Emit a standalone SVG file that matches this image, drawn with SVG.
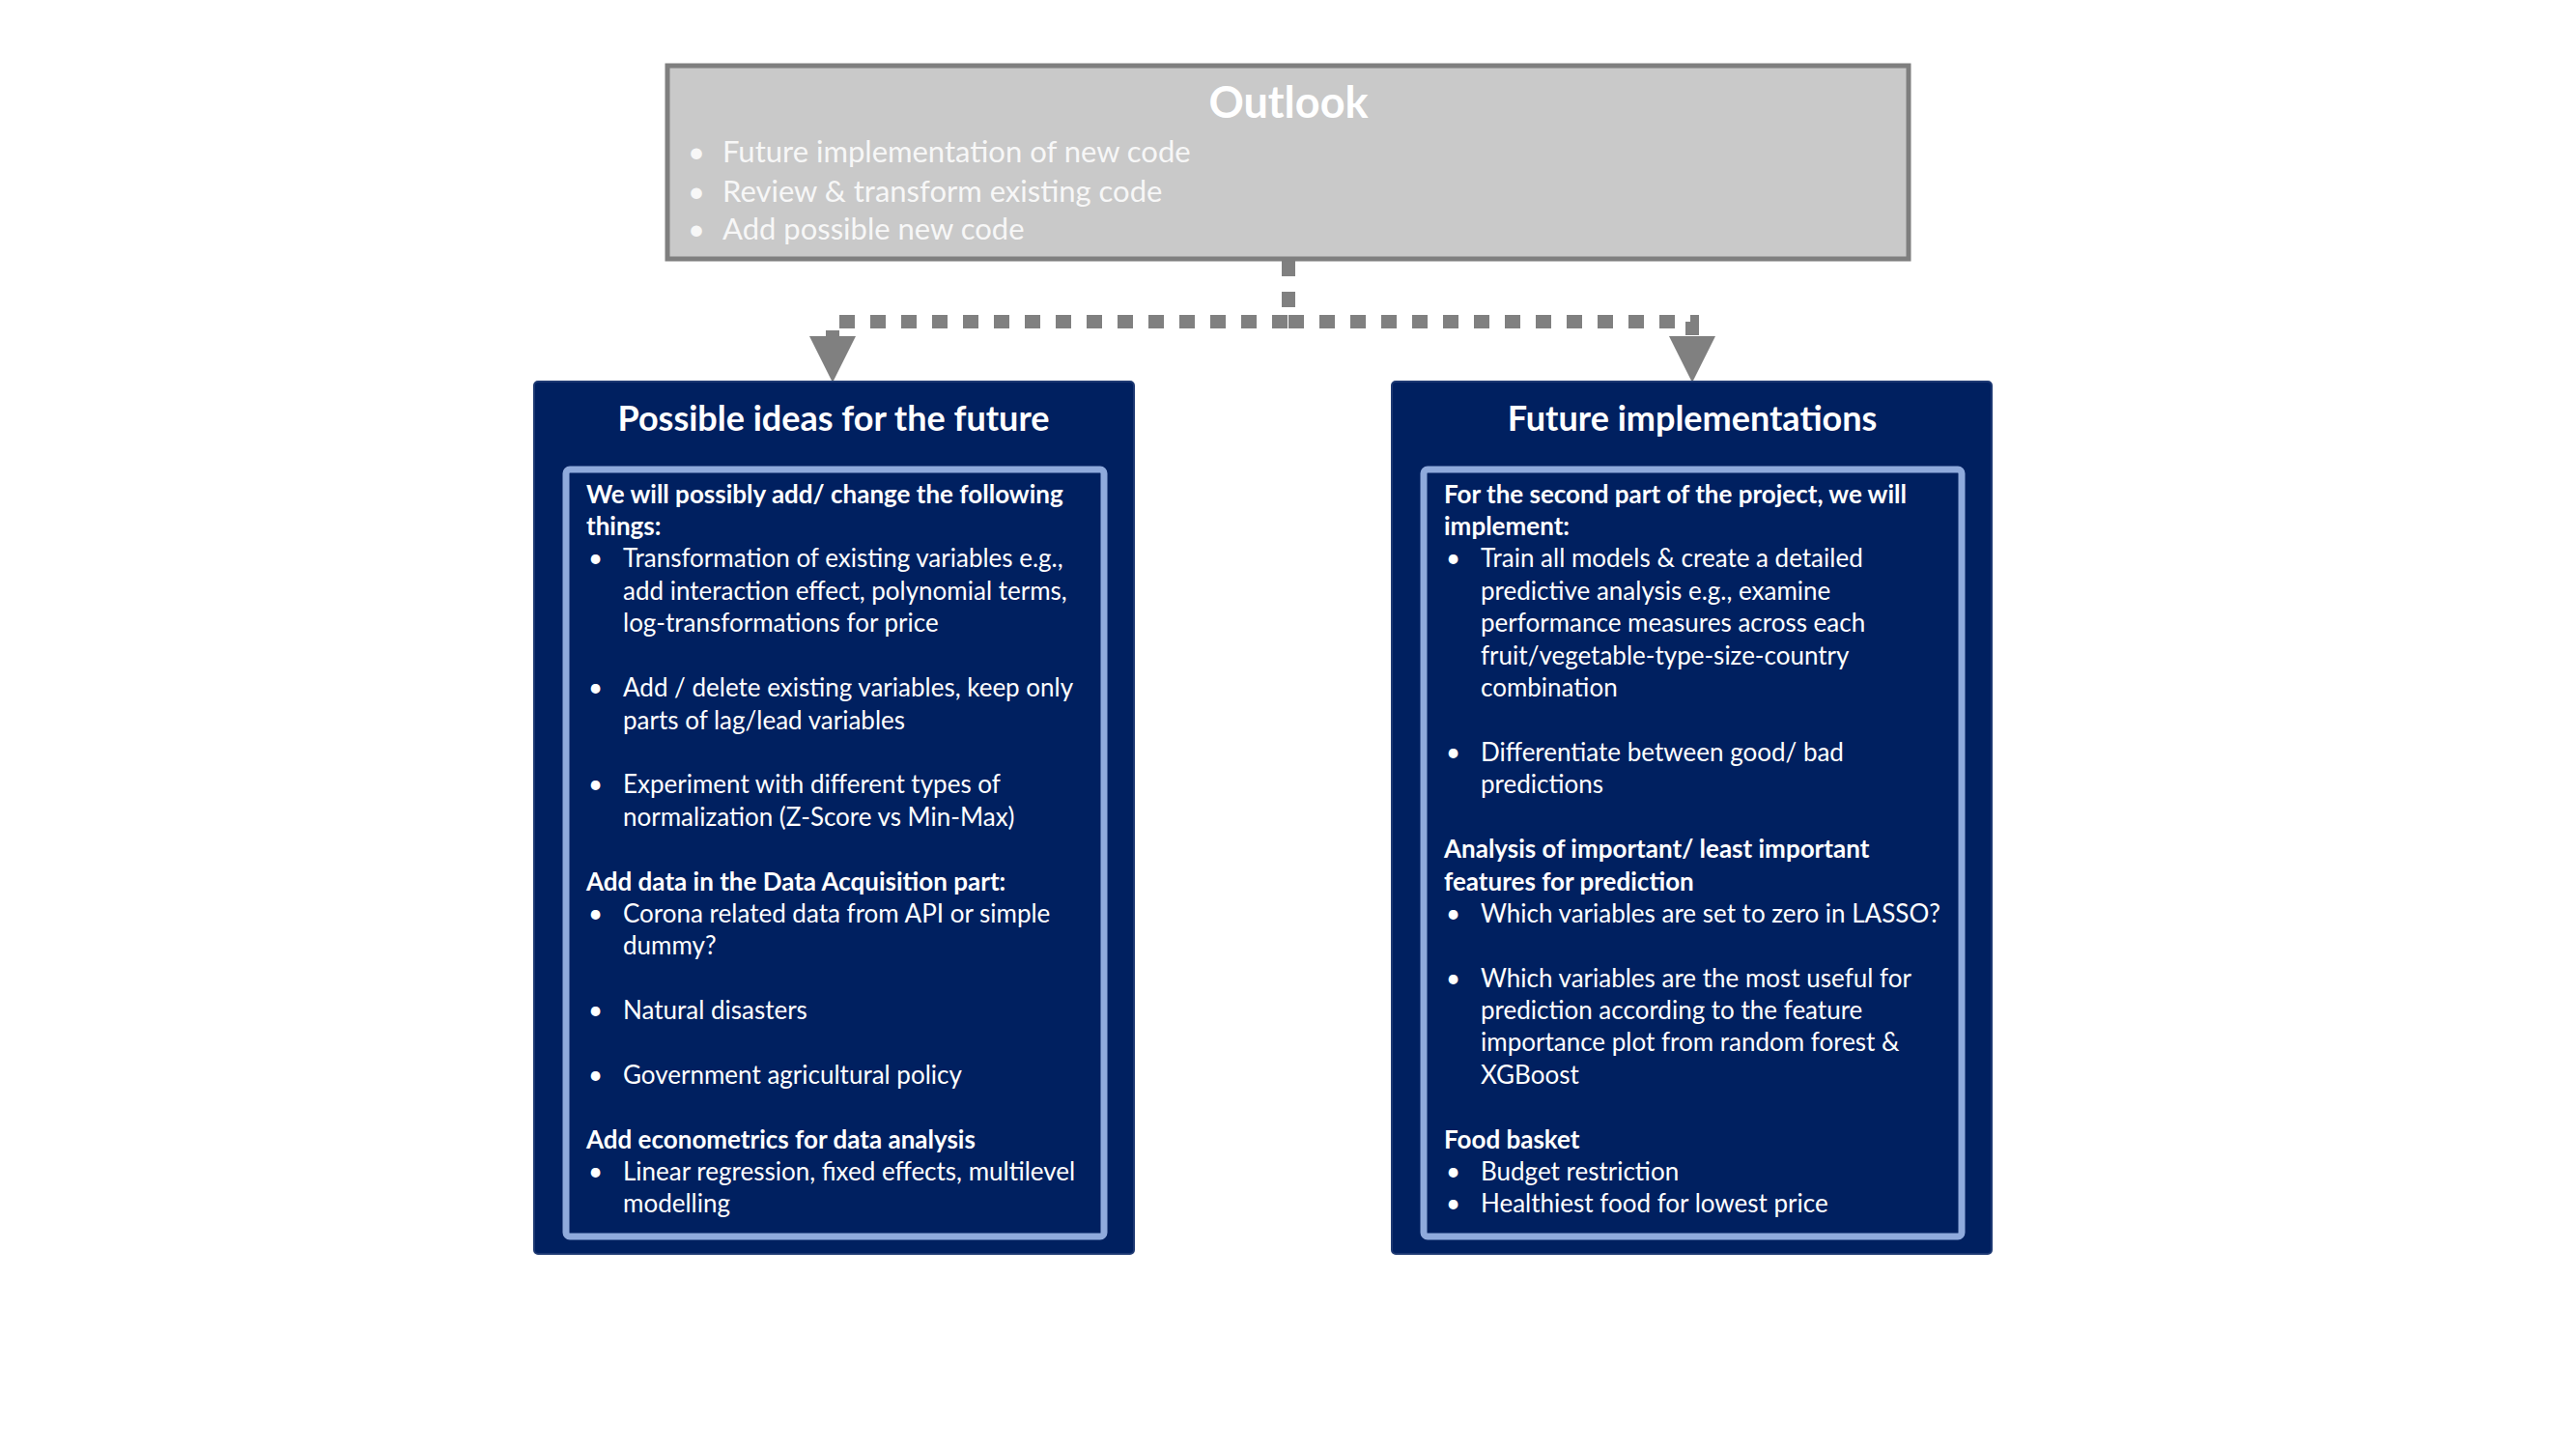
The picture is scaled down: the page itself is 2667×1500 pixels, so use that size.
<svg xmlns="http://www.w3.org/2000/svg" width="2667" height="1500" viewBox="0 0 2667 1500">
<style>
text{font-family:Lato,"Liberation Sans",sans-serif;fill:#ffffff}
.ol{font-size:31px;fill:#f7f7f7}
.olt{font-size:45px;font-weight:bold;fill:#ffffff}
.ttl{font-size:36px;font-weight:bold}
.b{font-size:26px;font-weight:bold}
.t{font-size:26px}
.navy{fill:#002060;stroke:#1c3872;stroke-width:2}
.inner{fill:#002060;stroke:#8faadc;stroke-width:7}
.con{fill:none;stroke:#808080;stroke-width:14;stroke-dasharray:16 16}
</style>
<defs>
<marker id="arr" viewBox="0 0 48 48" markerWidth="48" markerHeight="48" refX="0" refY="24" markerUnits="userSpaceOnUse" orient="auto">
<path d="M0,0 L48,24 L0,48 z" fill="#808080"/>
</marker>
</defs>
<rect width="2667" height="1500" fill="#ffffff"/>
<g id="connectors">
<path class="con" d="M1334 270 V333 H862 V348" marker-end="url(#arr)"/>
<path class="con" d="M1334 333 H1752 V348" marker-end="url(#arr)"/>
</g>
<g id="outlook">
<rect x="691" y="68" width="1285" height="200" fill="#c9c9c9" stroke="#7f7f7f" stroke-width="5"/>
<text class="olt" x="1334" y="122" text-anchor="middle">Outlook</text>
<text class="ol" x="712" y="168">•</text><text class="ol" x="748" y="168">Future implementation of new code</text>
<text class="ol" x="712" y="209">•</text><text class="ol" x="748" y="209">Review &amp; transform existing code</text>
<text class="ol" x="712" y="248">•</text><text class="ol" x="748" y="248">Add possible new code</text>
</g>
<g id="ideas">
<rect class="navy" x="553" y="395" width="621" height="903" rx="4"/>
<text class="ttl" x="863" y="446" text-anchor="middle">Possible ideas for the future</text>
<rect class="inner" x="586" y="486" width="557" height="794" rx="4"/>
<text class="b" x="607" y="521">We will possibly add/ change the following</text>
<text class="b" x="607" y="554">things:</text>
<text class="t" x="609" y="587">•</text><text class="t" x="645" y="587">Transformation of existing variables e.g.,</text>
<text class="t" x="645" y="621">add interaction effect, polynomial terms,</text>
<text class="t" x="645" y="654">log-transformations for price</text>
<text class="t" x="609" y="721">•</text><text class="t" x="645" y="721">Add / delete existing variables, keep only</text>
<text class="t" x="645" y="755">parts of lag/lead variables</text>
<text class="t" x="609" y="821">•</text><text class="t" x="645" y="821">Experiment with different types of</text>
<text class="t" x="645" y="855">normalization (Z-Score vs Min-Max)</text>
<text class="b" x="607" y="922">Add data in the Data Acquisition part:</text>
<text class="t" x="609" y="955">•</text><text class="t" x="645" y="955">Corona related data from API or simple</text>
<text class="t" x="645" y="988">dummy?</text>
<text class="t" x="609" y="1055">•</text><text class="t" x="645" y="1055">Natural disasters</text>
<text class="t" x="609" y="1122">•</text><text class="t" x="645" y="1122">Government agricultural policy</text>
<text class="b" x="607" y="1189">Add econometrics for data analysis</text>
<text class="t" x="609" y="1222">•</text><text class="t" x="645" y="1222">Linear regression, fixed effects, multilevel</text>
<text class="t" x="645" y="1255">modelling</text>
</g>
<g id="implementations">
<rect class="navy" x="1441" y="395" width="621" height="903" rx="4"/>
<text class="ttl" x="1752" y="446" text-anchor="middle">Future implementations</text>
<rect class="inner" x="1474" y="486" width="557" height="794" rx="4"/>
<text class="b" x="1495" y="521">For the second part of the project, we will</text>
<text class="b" x="1495" y="554">implement:</text>
<text class="t" x="1497" y="587">•</text><text class="t" x="1533" y="587">Train all models &amp; create a detailed</text>
<text class="t" x="1533" y="621">predictive analysis e.g., examine</text>
<text class="t" x="1533" y="654">performance measures across each</text>
<text class="t" x="1533" y="688">fruit/vegetable-type-size-country</text>
<text class="t" x="1533" y="721">combination</text>
<text class="t" x="1497" y="788">•</text><text class="t" x="1533" y="788">Differentiate between good/ bad</text>
<text class="t" x="1533" y="821">predictions</text>
<text class="b" x="1495" y="888">Analysis of important/ least important</text>
<text class="b" x="1495" y="922">features for prediction</text>
<text class="t" x="1497" y="955">•</text><text class="t" x="1533" y="955">Which variables are set to zero in LASSO?</text>
<text class="t" x="1497" y="1022">•</text><text class="t" x="1533" y="1022">Which variables are the most useful for</text>
<text class="t" x="1533" y="1055">prediction according to the feature</text>
<text class="t" x="1533" y="1088">importance plot from random forest &amp;</text>
<text class="t" x="1533" y="1122">XGBoost</text>
<text class="b" x="1495" y="1189">Food basket</text>
<text class="t" x="1497" y="1222">•</text><text class="t" x="1533" y="1222">Budget restriction</text>
<text class="t" x="1497" y="1255">•</text><text class="t" x="1533" y="1255">Healthiest food for lowest price</text>
</g>
</svg>
